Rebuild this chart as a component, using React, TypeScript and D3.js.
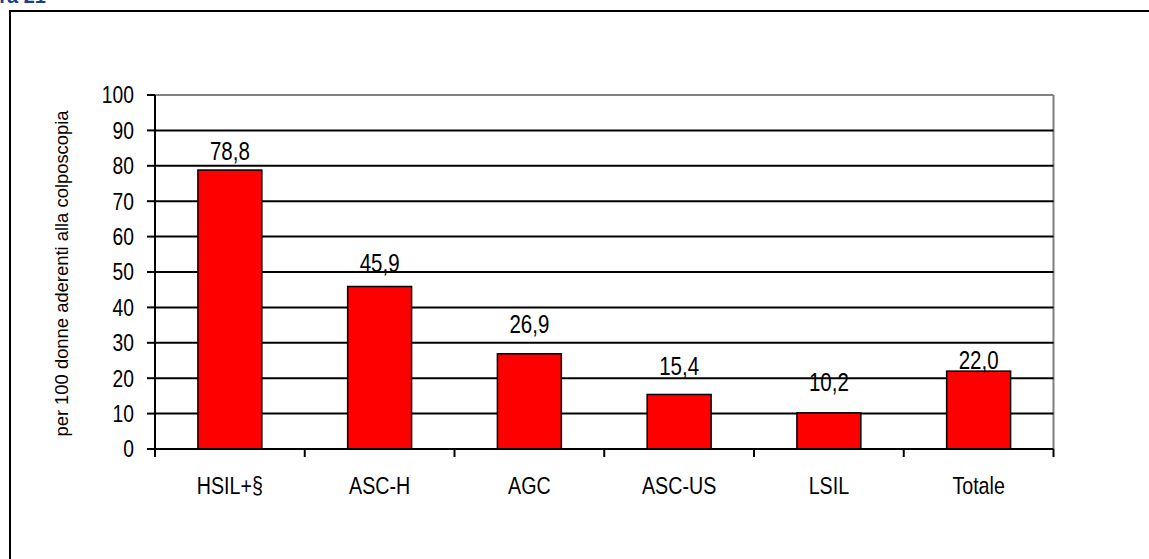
import React from "react";
import * as d3 from "d3";

const categories = ["HSIL+§", "ASC-H", "AGC", "ASC-US", "LSIL", "Totale"];
const values = [78.8, 45.9, 26.9, 15.4, 10.2, 22.0];
const valueLabels = ["78,8", "45,9", "26,9", "15,4", "10,2", "22,0"];
const yTicks = [0, 10, 20, 30, 40, 50, 60, 70, 80, 90, 100];
const labelGap = [10.5, 14.5, 21, 19.5, 22, 2];
const yTitle = "per 100 donne aderenti alla colposcopia";

const W = 1149;
const H = 559;
const plot = { left: 155, right: 1053.5, top: 95, bottom: 449 };
const FONT = "'Liberation Sans', Arial, Helvetica, sans-serif";
const NARROW = 0.82;

export default function App() {
  const x = d3
    .scaleBand<string>()
    .domain(categories)
    .range([plot.left, plot.right])
    .paddingInner(0.573)
    .paddingOuter(0.2865);
  const y = d3.scaleLinear().domain([0, 100]).range([plot.bottom, plot.top]);
  const step = x.step();
  const bounds = d3.range(categories.length + 1).map((i) => plot.left + i * step);

  const narrowText = (
    key: string,
    tx: number,
    ty: number,
    size: number,
    anchor: "start" | "middle" | "end",
    text: string
  ) => (
    <text
      key={key}
      transform={`translate(${tx},${ty}) scale(${NARROW},1)`}
      fontSize={size}
      fontFamily={FONT}
      textAnchor={anchor}
      fill="#000"
    >
      {text}
    </text>
  );

  return (
    <svg
      width={W}
      height={H}
      style={{ position: "absolute", left: 0, top: 0, background: "#fff" }}
    >
      <rect x={0} y={0} width={W} height={H} fill="#fff" />
      {/* cut-off title fragment */}
      <text
        x={46}
        y={3}
        textAnchor="end"
        fontSize={20}
        fontWeight="bold"
        fontFamily={FONT}
        fill="#1f3c88"
      >
        ura 21
      </text>
      {/* outer frame */}
      <rect x={10} y={11} width={W + 20} height={H + 20} fill="none" stroke="#000" strokeWidth={2} />

      {/* plot area border (top/right gray) */}
      <line x1={plot.left} x2={plot.right} y1={plot.top} y2={plot.top} stroke="#808080" strokeWidth={2} />
      <line x1={plot.right} x2={plot.right} y1={plot.top} y2={plot.bottom} stroke="#808080" strokeWidth={2} />

      {/* gridlines */}
      {yTicks
        .filter((t) => t > 0 && t < 100)
        .map((t) => (
          <line key={"g" + t} x1={plot.left} x2={plot.right} y1={y(t)} y2={y(t)} stroke="#000" strokeWidth={2} />
        ))}

      {/* bars */}
      {categories.map((c, i) => (
        <rect
          key={"b" + c}
          x={x(c)}
          y={y(values[i])}
          width={x.bandwidth()}
          height={y(0) - y(values[i])}
          fill="#ff0000"
          stroke="#000"
          strokeWidth={1.5}
        />
      ))}

      {/* axes */}
      <line x1={plot.left} x2={plot.left} y1={plot.top} y2={plot.bottom + 8} stroke="#000" strokeWidth={2} />
      <line x1={plot.left} x2={plot.right} y1={plot.bottom} y2={plot.bottom} stroke="#000" strokeWidth={2} />
      {yTicks.map((t) => (
        <line key={"yt" + t} x1={plot.left - 8} x2={plot.left} y1={y(t)} y2={y(t)} stroke="#000" strokeWidth={2} />
      ))}
      {bounds.map((b, i) => (
        <line key={"xt" + i} x1={b} x2={b} y1={plot.bottom} y2={plot.bottom + 8} stroke="#000" strokeWidth={2} />
      ))}

      {/* y tick labels */}
      {yTicks.map((t) => narrowText("yl" + t, 134, y(t) + 8.3, 23.5, "end", String(t)))}

      {/* x labels */}
      {categories.map((c) => narrowText("xl" + c, (x(c) as number) + x.bandwidth() / 2, 494, 24, "middle", c))}

      {/* value labels */}
      {categories.map((c, i) =>
        narrowText(
          "vl" + c,
          (x(c) as number) + x.bandwidth() / 2,
          y(values[i]) - labelGap[i],
          25,
          "middle",
          valueLabels[i]
        )
      )}

      {/* y title */}
      <text
        transform={`translate(68,273.5) rotate(-90)`}
        fontSize={18.4}
        fontFamily={FONT}
        textAnchor="middle"
        fill="#000"
      >
        {yTitle}
      </text>
    </svg>
  );
}
